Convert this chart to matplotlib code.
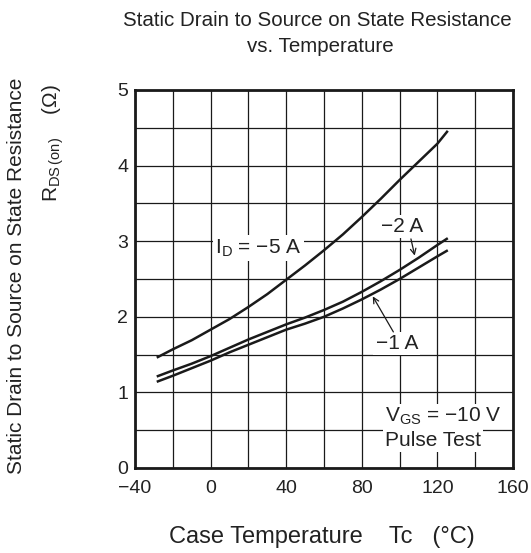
import matplotlib
matplotlib.use("Agg")
import matplotlib.pyplot as plt

plt.rcParams['font.family'] = ['Liberation Sans', 'DejaVu Sans']

# Data
temp = [-28.5, -20, -10, 0, 10, 20, 30, 40, 50, 60, 70, 80, 90, 100, 110, 120, 125.5]
rds_5a = [1.46, 1.57, 1.69, 1.83, 1.97, 2.13, 2.30, 2.49, 2.68, 2.88, 3.09,
          3.32, 3.56, 3.81, 4.05, 4.29, 4.46]
rds_2a = [1.21, 1.29, 1.38, 1.48, 1.59, 1.70, 1.80, 1.90, 1.99, 2.09, 2.20,
          2.33, 2.47, 2.62, 2.78, 2.95, 3.04]
rds_1a = [1.14, 1.22, 1.32, 1.42, 1.53, 1.63, 1.73, 1.83, 1.91, 2.00, 2.11,
          2.23, 2.36, 2.50, 2.65, 2.80, 2.88]

x_ticks = [-40, 0, 40, 80, 120, 160]
x_tick_labels = ['\u221240', '0', '40', '80', '120', '160']
y_ticks = [0, 1, 2, 3, 4, 5]

txt = '#222222'
fig = plt.figure(figsize=(5.31, 5.53), dpi=100)
ax = fig.add_axes([135 / 531, 1 - 468 / 553, 378 / 531, 378 / 553])

ax.set_xlim(-40, 160)
ax.set_ylim(0, 5)
ax.set_xticks(range(-40, 161, 20), minor=True)
ax.set_yticks([v / 2 for v in range(0, 11)], minor=True)
ax.set_xticks(x_ticks)
ax.set_xticklabels(x_tick_labels)
ax.set_yticks(y_ticks)
ax.grid(True, which='both', color='#1a1a1a', lw=0.9)
ax.set_axisbelow(True)
ax.tick_params(which='both', length=0, labelsize=14, colors=txt)
ax.tick_params(axis='x', pad=8.5)
ax.tick_params(axis='y', pad=5)
for s in ax.spines.values():
    s.set_linewidth(2.0)
    s.set_color('#1a1a1a')

for r in (rds_5a, rds_2a, rds_1a):
    ax.plot(temp, r, color='#1a1a1a', lw=1.8, solid_capstyle='butt', zorder=3)

fs = 15
bb = dict(facecolor='white', edgecolor='none', pad=1.5)
ax.text(25.3, 2.91, 'I$_\\mathregular{D}$ = \u22125 A', ha='center', va='center',
        fontsize=fs, color=txt, bbox=bb, zorder=4)
ax.text(101.6, 3.19, '\u22122 A', ha='center', va='center', fontsize=fs,
        color=txt, bbox=bb, zorder=4)
ax.text(98.5, 1.65, '\u22121 A', ha='center', va='center', fontsize=fs,
        color=txt, bbox=bb, zorder=4)
ax.text(92.3, 0.68, 'V$_\\mathregular{GS}$ = \u221210 V', ha='left', va='center',
        fontsize=fs, color=txt, bbox=bb, zorder=4)
ax.text(92.3, 0.37, 'Pulse Test', ha='left', va='center', fontsize=fs,
        color=txt, bbox=bb, zorder=4)

ax.annotate('', xy=(108, 2.81), xytext=(106, 3.03),
            arrowprops=dict(arrowstyle='->', color='#1a1a1a', lw=0.9,
                            shrinkA=0, shrinkB=0), zorder=5)
ax.annotate('', xy=(85.8, 2.27), xytext=(96.7, 1.80),
            arrowprops=dict(arrowstyle='->', color='#1a1a1a', lw=0.9,
                            shrinkA=0, shrinkB=0), zorder=5)

fig.text(317 / 531, 1 - 20 / 553, 'Static Drain to Source on State Resistance',
         ha='center', va='center', fontsize=14.8, color=txt)
fig.text(320 / 531, 1 - 46 / 553, 'vs. Temperature',
         ha='center', va='center', fontsize=14.8, color=txt)
fig.text(17 / 531, 1 - 276 / 553, 'Static Drain to Source on State Resistance',
         ha='center', va='center', rotation=90, fontsize=15, color=txt)
fig.text(53 / 531, 1 - 143 / 553,
         'R$_\\mathregular{DS\\,(on)}$    (\u03a9)',
         ha='center', va='center', rotation=90, fontsize=15, color=txt)
fig.text(322 / 531, 1 - 537 / 553, 'Case Temperature    Tc   (\u00b0C)',
         ha='center', va='center', fontsize=17, color=txt)

fig.savefig('out.png', dpi=100, facecolor='white')
